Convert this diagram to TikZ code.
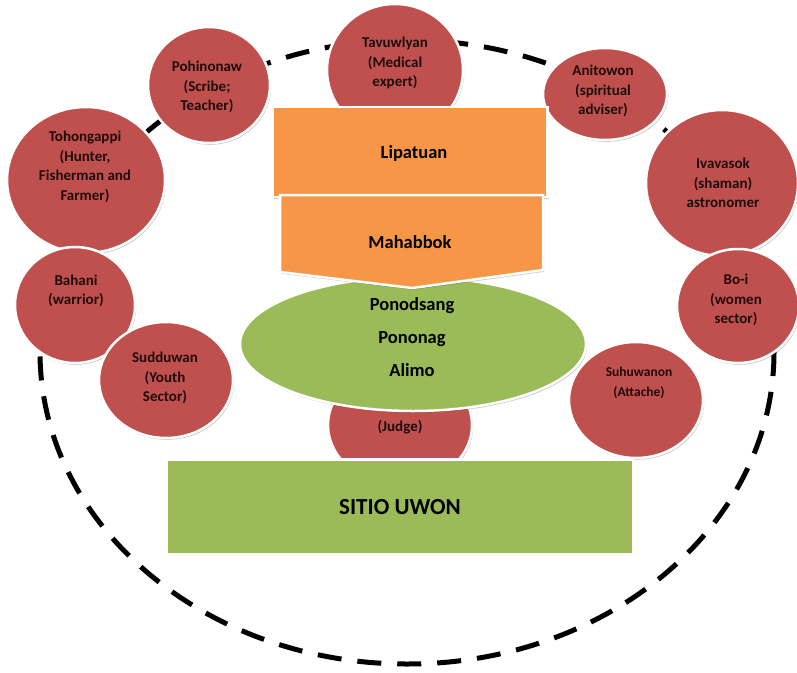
\documentclass[tikz,border=0pt]{standalone}
\usepackage{fontspec}
\setmainfont{Carlito}
\usetikzlibrary{shapes.geometric,shadows}
\definecolor{rolered}{HTML}{C0504D}
\definecolor{boxorange}{HTML}{F79646}
\definecolor{leafgreen}{HTML}{9BBB59}
\begin{document}
\begin{tikzpicture}[x=1pt,y=-1pt] % sitio uwon council of elders
\tikzstyle{every node}+=[inner sep=0pt]
\tikzstyle{softshadow}=[drop shadow={shadow xshift=1.2pt, shadow yshift=-1.8pt, opacity=0.3, fill=black!70}]
\tikzstyle{role}=[ellipse, fill=rolered, draw=white, line width=2.5pt, softshadow]
\tikzstyle{roletext}=[align=center, font=\bfseries\fontsize{15}{19.5}\selectfont, text=black!85!rolered]
\tikzstyle{panel}=[draw=white, line width=2.5pt, softshadow]
\tikzstyle{paneltext}=[align=center, font=\bfseries\fontsize{18.5}{33}\selectfont, text=black]
\useasboundingbox (0,0) rectangle (797,672);
\draw [black, line width=5pt, dash pattern=on 24pt off 16pt] (407,352) ellipse [x radius=367, y radius=312];
\node [role, minimum width=136, minimum height=132] (tavuwlyan) at (395,70) {};
\node [roletext] (tavuwlyan-t) at (395,63) {Tavuwlyan\\(Medical\\expert)};
\node [role, minimum width=122, minimum height=116] (pohinonaw) at (209,85) {};
\node [roletext] (pohinonaw-t) at (207,87) {Pohinonaw\\(Scribe;\\Teacher)};
\node [role, minimum width=158, minimum height=146] (tohongappi) at (86,180) {};
\node [roletext] (tohongappi-t) at (85,167) {Tohongappi\\(Hunter,\\Fisherman and\\Farmer)};
\node [role, minimum width=120, minimum height=116] (bahani) at (75,305) {};
\node [roletext] (bahani-t) at (76,291) {Bahani\\(warrior)};
\node [role, minimum width=134, minimum height=116] (sudduwan) at (166,380) {};
\node [roletext] (sudduwan-t) at (165,378) {Sudduwan\\(Youth\\Sector)};
\node [role, minimum width=124, minimum height=92] (anitowon) at (605,94) {};
\node [roletext] (anitowon-t) at (603,91) {Anitowon\\(spiritual\\adviser)};
\node [role, minimum width=152, minimum height=146] (ivavasok) at (722,183) {};
\node [roletext] (ivavasok-t) at (723,183) {Ivavasok\\(shaman)\\astronomer};
\node [role, minimum width=122, minimum height=114] (boi) at (738,306) {};
\node [roletext] (boi-t) at (736,300) {Bo-i\\(women\\sector)};
\node [role, minimum width=134, minimum height=116] (suhuwanon) at (636,400) {};
\node [roletext, font=\bfseries\fontsize{13.5}{20}\selectfont] (suhuwanon-t) at (639,383) {Suhuwanon\\(Attache)};
\node [role, minimum width=144, minimum height=120] (judge) at (400,425) {};
\node [roletext] (judge-t) at (400,427) {(Judge)};
\node [panel, ellipse, fill=leafgreen, minimum width=346, minimum height=134] (alimo) at (413,344) {};
\node [paneltext] (alimo-t) at (412,337) {Ponodsang\\Pononag\\Alimo};
\node [panel, rectangle, fill=boxorange, minimum width=275, minimum height=90] (lipatuan) at (410,152) {};
\node [paneltext] (lipatuan-t) at (414,153) {Lipatuan};
\draw [panel, fill=boxorange] (280,195) -- (543,195) -- (543,270) -- (412,288) -- (280,272) -- cycle;
\node [paneltext] (mahabbok) at (410,242) {Mahabbok};
\node [panel, rectangle, fill=leafgreen, minimum width=466, minimum height=95] (sitio) at (400,507) {};
\node [paneltext, font=\bfseries\fontsize{23}{28}\selectfont] (sitio-t) at (400,507) {SITIO UWON};
\end{tikzpicture}
\end{document}
